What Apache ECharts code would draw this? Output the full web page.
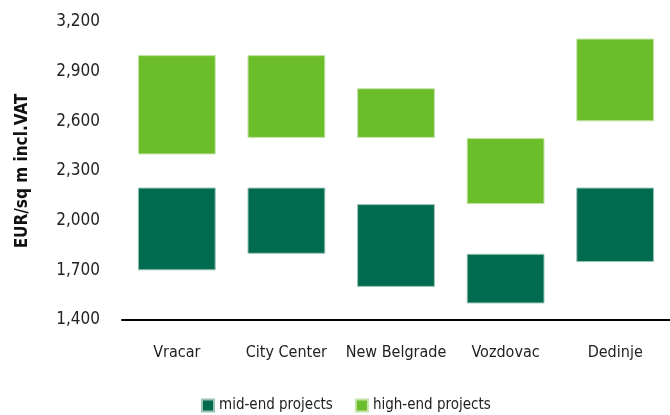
<!DOCTYPE html>
<html><head><meta charset="utf-8">
<script src="https://cdn.jsdelivr.net/npm/echarts@6/dist/echarts.min.js"></script>
<style>html,body{margin:0;padding:0;background:#fff}#c{width:670px;height:415px}</style>
</head><body><div id="c"></div>
<script>
const categories = ['Vracar', 'City Center', 'New Belgrade', 'Vozdovac', 'Dedinje'];
const midLow  = [1700, 1800, 1600, 1500, 1750];
const midHigh = [2200, 2200, 2100, 1800, 2200];
const highLow = [2400, 2500, 2500, 2100, 2600];
const highHigh= [3000, 3000, 2800, 2500, 3100];
const yTicks = [1400, 1700, 2000, 2300, 2600, 2900, 3200];

const FONT = '"DejaVu Sans Condensed", "Liberation Sans Narrow", sans-serif';
const midRange = midHigh.map((v, i) => v - midLow[i]);
const gap = highLow.map((v, i) => v - midHigh[i]);
const highRange = highHigh.map((v, i) => v - highLow[i]);
const hidden = { color: 'transparent', borderWidth: 0 };
const bw = '71%';
const chart = echarts.init(document.getElementById('c'), null, { renderer: 'canvas' });
chart.setOption({
  animation: false,
  grid: { left: 122, right: 0, top: 22, bottom: 95 },
  legend: {
    data: ['mid-end projects', 'high-end projects'],
    top: 393, left: 196, itemWidth: 12, itemHeight: 12, itemGap: 22,
    icon: 'rect',
    textStyle: { fontFamily: FONT, fontSize: 15, color: '#222' }
  },
  xAxis: {
    type: 'category', data: categories,
    axisLine: { lineStyle: { color: '#000', width: 2 } },
    axisTick: { show: false },
    axisLabel: { interval: 0, fontFamily: FONT, fontSize: 16, color: '#222', margin: 25 }
  },
  yAxis: {
    type: 'value', min: yTicks[0], max: yTicks[yTicks.length - 1], interval: 300,
    name: 'EUR/sq m incl.VAT', nameLocation: 'middle', nameGap: 91,
    nameTextStyle: { fontFamily: FONT, fontSize: 17, fontWeight: 'bold', color: '#111' },
    axisLine: { show: false }, axisTick: { show: false }, splitLine: { show: false },
    axisLabel: { fontFamily: FONT, fontSize: 17, color: '#222', margin: 22,
      formatter: v => v.toLocaleString('en-US') }
  },
  series: [
    { name: 'base', type: 'bar', stack: 's', barWidth: bw, data: midLow, itemStyle: hidden, silent: true },
    { name: 'mid-end projects', type: 'bar', stack: 's', barWidth: bw, data: midRange,
      itemStyle: { color: '#006b4e', borderColor: '#9cc4b6', borderWidth: 1 } },
    { name: 'gap', type: 'bar', stack: 's', barWidth: bw, data: gap, itemStyle: hidden, silent: true },
    { name: 'high-end projects', type: 'bar', stack: 's', barWidth: bw, data: highRange,
      itemStyle: { color: '#6bbd29', borderColor: '#c4e4a8', borderWidth: 1 } }
  ]
});
</script></body></html>
